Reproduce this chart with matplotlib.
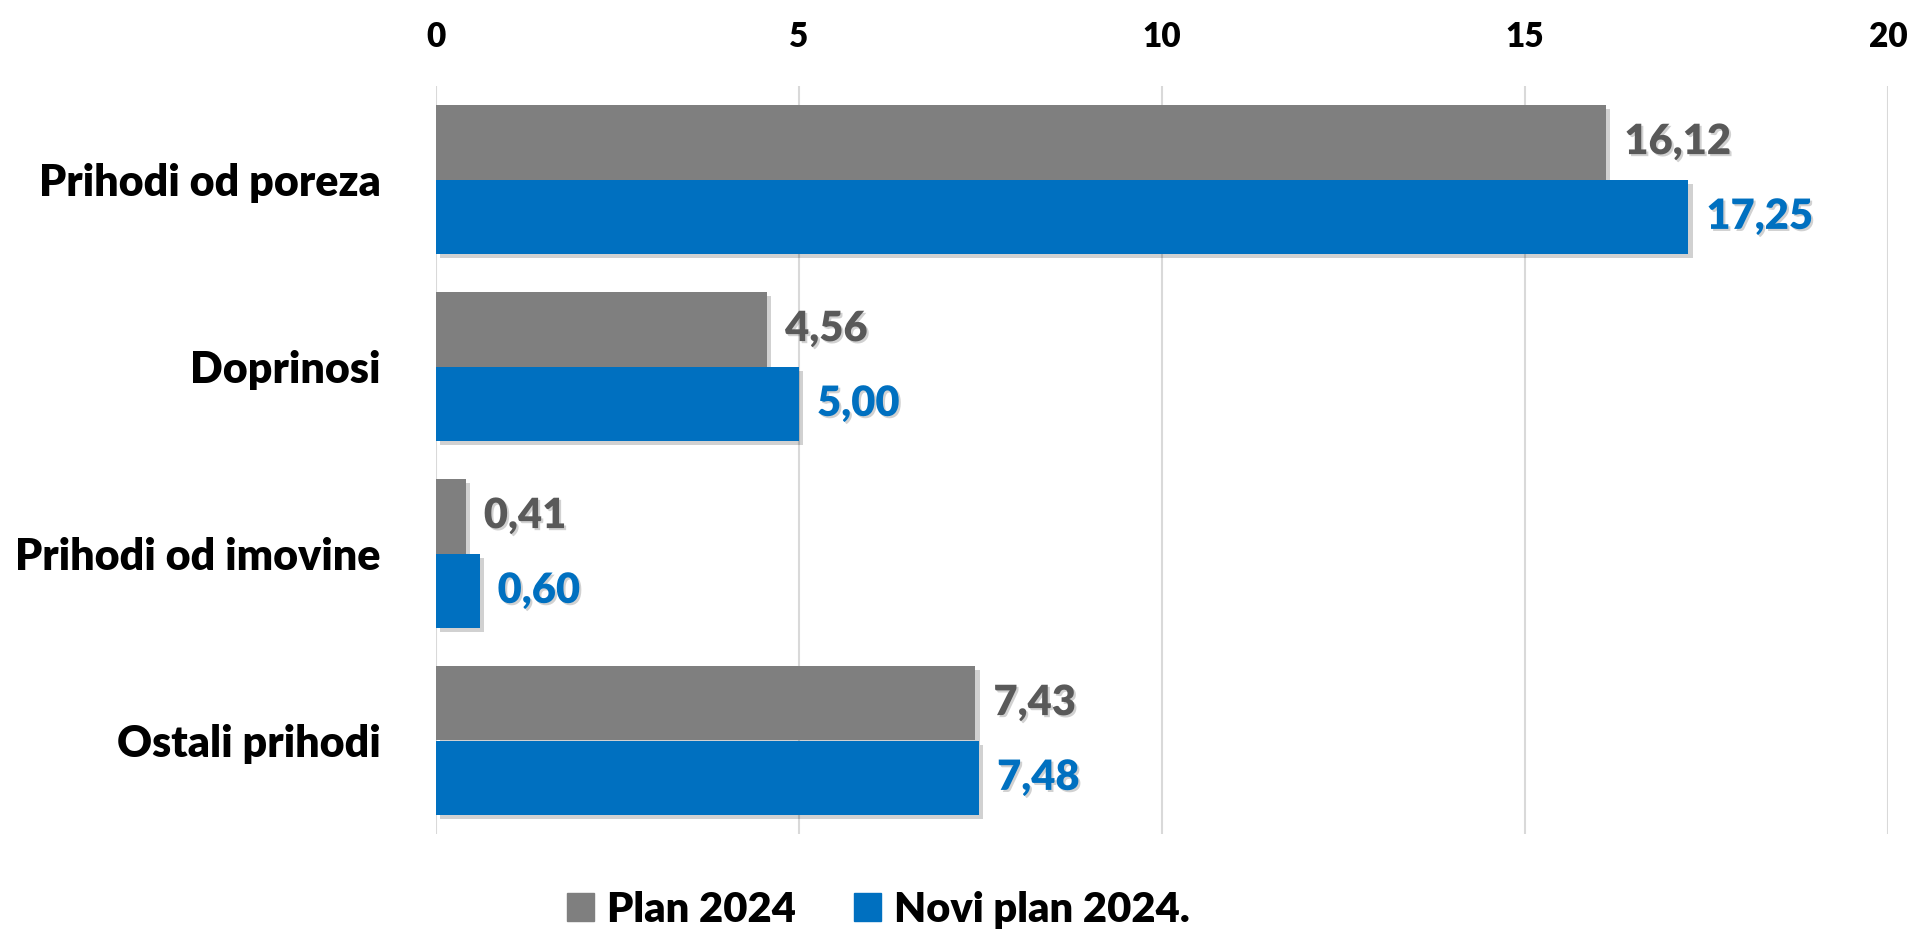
import matplotlib
matplotlib.use("Agg")
import matplotlib.pyplot as plt
import matplotlib.patheffects as pe
from matplotlib.patches import Patch
import numpy as np

categories = ["Prihodi od poreza", "Doprinosi", "Prihodi od imovine", "Ostali prihodi"]
plan_2024 = [16.12, 4.56, 0.41, 7.43]
novi_plan_2024 = [17.25, 5.00, 0.60, 7.48]
series_names = ["Plan 2024", "Novi plan 2024."]
x_ticks = [0, 5, 10, 15, 20]

GRAY = "#7F7F7F"
GRAY_TXT = "#595959"
BLUE = "#0070C0"
W = 'heavy'

plt.rcParams['font.family'] = ['Lato', 'DejaVu Sans']
plt.rcParams['font.weight'] = W

fig = plt.figure(figsize=(19.16, 9.32), dpi=100)
ax = fig.add_axes([436 / 1916, 98 / 932, 1452 / 1916, 748 / 932])

y = np.arange(len(categories))
h = 0.4
bar_fx = [pe.SimplePatchShadow(offset=(3, -3), shadow_rgbFace='k', alpha=0.18), pe.Normal()]
txt_fx = [pe.withSimplePatchShadow(offset=(1.5, -1.5), shadow_rgbFace='k', alpha=0.18)]

b1 = ax.barh(y - h / 2, plan_2024, height=h, color=GRAY, zorder=3)
b2 = ax.barh(y + h / 2, novi_plan_2024, height=h, color=BLUE, zorder=3)
for bar in list(b1) + list(b2):
    bar.set_path_effects(bar_fx)

def fmt(v):
    return f"{v:.2f}".replace(".", ",")

for bars, vals, col in [(b1, plan_2024, GRAY_TXT), (b2, novi_plan_2024, BLUE)]:
    for bar, v in zip(bars, vals):
        t = ax.annotate(fmt(v), (v, bar.get_y() + bar.get_height() / 2),
                        xytext=(13, 0), textcoords='offset points',
                        ha='left', va='center', fontsize=30, fontweight=W,
                        color=col, zorder=4)
        t.set_path_effects(txt_fx)

ax.set_xlim(0, 20)
ax.set_ylim(3.5, -0.5)
ax.set_xticks(x_ticks)
ax.xaxis.tick_top()
ax.tick_params(axis='x', length=0, pad=24, labelsize=24)
ax.set_yticks(y)
ax.set_yticklabels(categories)
ax.tick_params(axis='y', length=0, pad=40, labelsize=31)
for lab in ax.get_xticklabels() + ax.get_yticklabels():
    lab.set_fontweight(W)
ax.grid(axis='x', color='#D9D9D9', linewidth=1.5, zorder=0)
ax.set_axisbelow(True)
for s in ax.spines.values():
    s.set_visible(False)

handles = [Patch(color=GRAY), Patch(color=BLUE)]
leg = fig.legend(handles, series_names, loc='center left',
                 bbox_to_anchor=(567 / 1916, 1 - 910 / 932), ncol=2, frameon=False,
                 prop={'weight': W, 'size': 30},
                 handlelength=0.65, handleheight=0.65, handletextpad=0.3,
                 columnspacing=1.4, borderpad=0, borderaxespad=0)

fig.savefig("out.png", dpi=100)
